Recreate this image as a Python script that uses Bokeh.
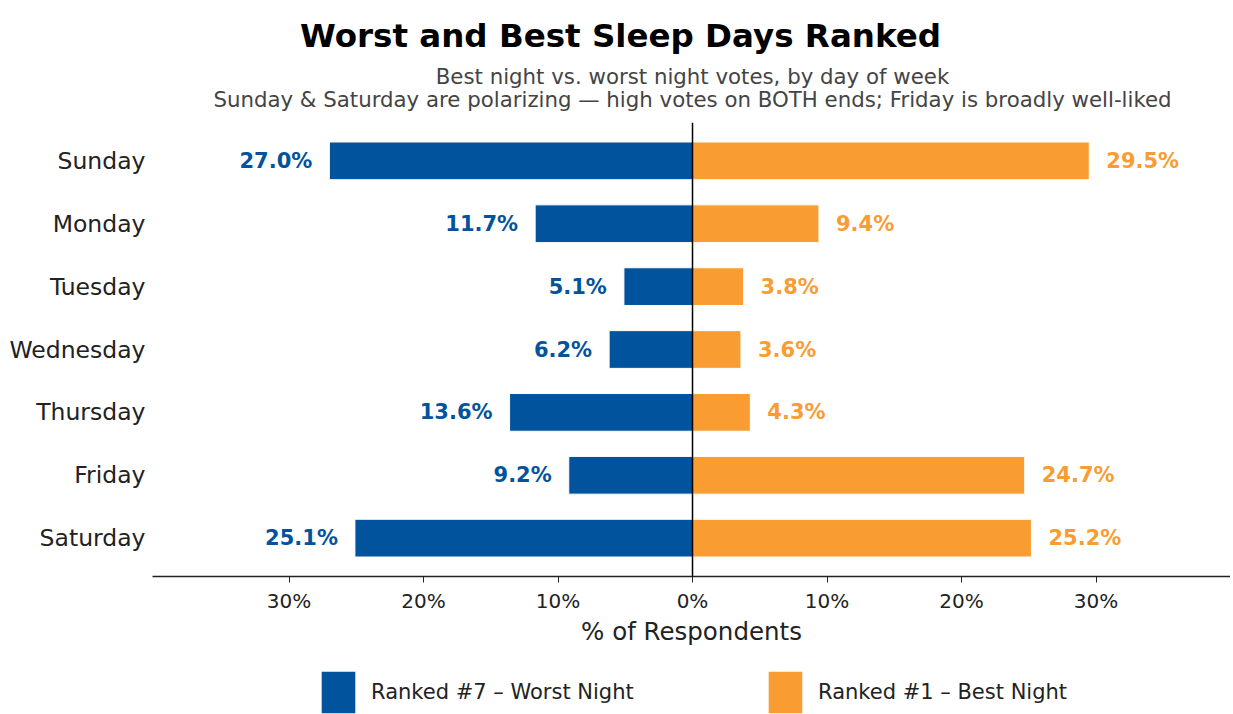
from bokeh.plotting import figure
from bokeh.layouts import column
from bokeh.models import (ColumnDataSource, FactorRange, Range1d, Span,
                          Legend, LegendItem, FixedTicker)
from bokeh.embed import file_html
from bokeh.resources import INLINE
from bokeh.core.properties import value

days = ["Sunday", "Monday", "Tuesday", "Wednesday", "Thursday", "Friday", "Saturday"]
worst_pct = [27.0, 11.7, 5.1, 6.2, 13.6, 9.2, 25.1]
best_pct = [29.5, 9.4, 3.8, 3.6, 4.3, 24.7, 25.2]
x_ticks = [-30, -20, -10, 0, 10, 20, 30]
x_tick_labels = ["30%", "20%", "10%", "0%", "10%", "20%", "30%"]
series_labels = ["Ranked #7 \u2013 Worst Night", "Ranked #1 \u2013 Best Night"]

TITLE = "Worst and Best Sleep Days Ranked"
SUB1 = "Best night vs. worst night votes, by day of week"
SUB2 = "Sunday & Saturday are polarizing \u2014 high votes on BOTH ends; Friday is broadly well-liked"

BLUE = "#01539D"
ORANGE = "#F99D32"
FONT = "DejaVu Sans"
LEFT = 152      # frame left edge (page px)
RIGHT = 1230    # frame right edge (page px)
NAN = float("nan")


def blank(height, x_start, x_end, y_start, y_end):
    f = figure(width=RIGHT, height=height, x_range=Range1d(x_start, x_end),
               y_range=Range1d(y_start, y_end), x_axis_location=None, y_axis_location=None,
               frame_width=RIGHT - LEFT, min_border_left=LEFT, min_border_right=0,
               min_border_top=0, min_border_bottom=0,
               output_backend="svg", toolbar_location=None, title=None)
    f.outline_line_color = None
    f.grid.visible = False
    f.background_fill_color = "white"
    f.border_fill_color = "white"
    return f


# ---------- header (title + subtitle), page-pixel coordinates from top ----------
head = blank(122, LEFT, RIGHT, 122, 0)
head.text(x=[620], y=[35], text=[TITLE], text_align="center", text_baseline="alphabetic",
          text_font=value(FONT), text_font_size="32.5px", text_font_style="bold",
          text_color="black")
head.text(x=[692, 692], y=[76, 99.3], text=[SUB1, SUB2], text_align="center",
          text_baseline="alphabetic", text_font=value(FONT), text_font_size="21.3px",
          text_color="#444444")

# ---------- main chart ----------
src = ColumnDataSource(dict(
    day=days,
    worst_neg=[-v for v in worst_pct],
    best=best_pct,
    worst_lbl=[f"{v:.1f}%" for v in worst_pct],
    best_lbl=[f"{v:.1f}%" for v in best_pct],
    zero=[0] * len(days),
))

p = figure(
    y_range=FactorRange(factors=days[::-1], range_padding=0.11,
                        range_padding_units="absolute"),
    x_range=Range1d(-40.15, 40.0),
    frame_width=RIGHT - LEFT, frame_height=454,
    min_border_left=LEFT, min_border_right=0, min_border_top=0, min_border_bottom=78,
    output_backend="svg", toolbar_location=None, title=None,
)
p.outline_line_color = None
p.xgrid.visible = False
p.ygrid.visible = False
p.background_fill_color = "white"
p.border_fill_color = "white"

p.hbar(y="day", left="worst_neg", right="zero", height=0.6, source=src,
       fill_color=BLUE, line_color="white", line_width=1)
p.hbar(y="day", left="zero", right="best", height=0.6, source=src,
       fill_color=ORANGE, line_color="white", line_width=1)

p.text(x="worst_neg", y="day", text="worst_lbl", source=src, x_offset=-17,
       text_align="right", text_baseline="middle", text_color=BLUE,
       text_font=value(FONT), text_font_style="bold", text_font_size="21px")
p.text(x="best", y="day", text="best_lbl", source=src, x_offset=17,
       text_align="left", text_baseline="middle", text_color=ORANGE,
       text_font=value(FONT), text_font_style="bold", text_font_size="21px")

p.add_layout(Span(location=0, dimension="height", line_color="black", line_width=1.5))

xa = p.xaxis[0]
xa.ticker = FixedTicker(ticks=x_ticks)
xa.major_label_overrides = {t: l for t, l in zip(x_ticks, x_tick_labels)}
xa.minor_tick_line_color = None
xa.major_tick_in = 0
xa.major_tick_out = 6
xa.axis_line_color = "#222222"
xa.axis_line_width = 1.5
xa.major_tick_line_color = "#222222"
xa.major_label_text_font = FONT
xa.major_label_text_font_size = "20px"
xa.major_label_text_color = "#222222"
xa.major_label_standoff = 6
xa.axis_label = "% of Respondents"
xa.axis_label_text_font = FONT
xa.axis_label_text_font_size = "24.5px"
xa.axis_label_text_font_style = "normal"
xa.axis_label_text_color = "#222222"
xa.axis_label_standoff = 1

ya = p.yaxis[0]
ya.axis_line_color = None
ya.major_tick_line_color = None
ya.minor_tick_line_color = None
ya.major_tick_out = 0
ya.major_tick_in = 0
ya.major_label_standoff = 7
ya.major_label_text_font = FONT
ya.major_label_text_font_size = "23.5px"
ya.major_label_text_color = "#222222"

# ---------- legend strip ----------
leg = blank(60, 0, 1, 0, 1)
lw = leg.quad(left=[NAN], right=[NAN], top=[NAN], bottom=[NAN], fill_color=BLUE, line_color=None)
lb = leg.quad(left=[NAN], right=[NAN], top=[NAN], bottom=[NAN], fill_color=ORANGE, line_color=None)
legend = Legend(items=[LegendItem(label=series_labels[0], renderers=[lw]),
                       LegendItem(label=series_labels[1], renderers=[lb])],
                orientation="horizontal", location=(317 - LEFT, -4),
                glyph_width=42, glyph_height=52, label_standoff=12,
                label_width=275, label_height=20, spacing=118,
                label_text_font=FONT, label_text_font_size="21px", label_text_color="#222222",
                label_text_baseline="middle",
                border_line_color=None, background_fill_alpha=0, padding=0, margin=0)
leg.add_layout(legend, "center")

layout = column(head, p, leg, spacing=0)
open("out.html", "w").write(file_html(layout, INLINE))
